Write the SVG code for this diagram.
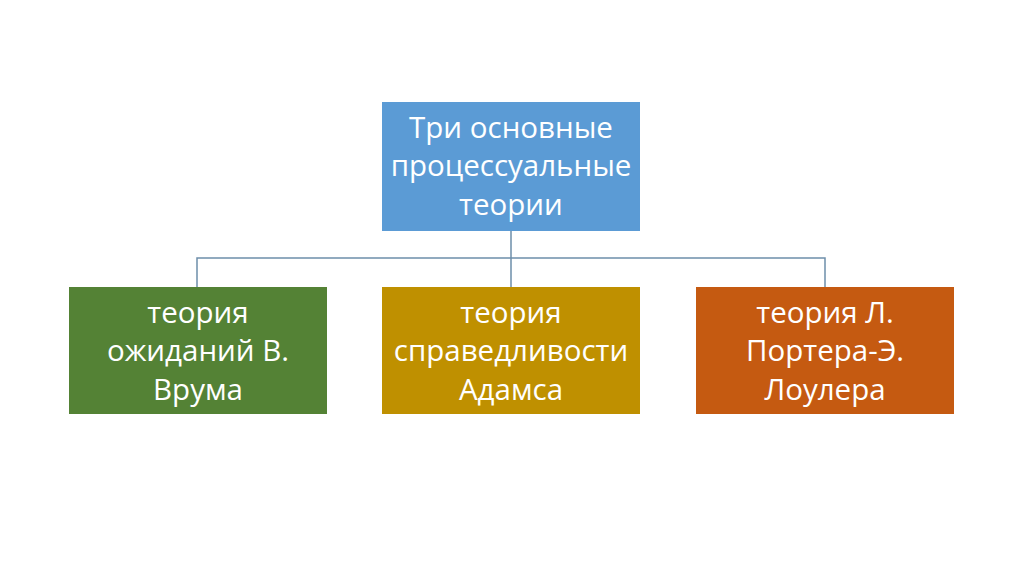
<svg xmlns="http://www.w3.org/2000/svg" width="1024" height="574" viewBox="0 0 1024 574">
<style>
.t{font-family:"Open Sans","Liberation Sans",sans-serif;font-size:29.5px;fill:#ffffff;text-anchor:middle}
.c{stroke:#6E8FAB;stroke-width:1.5;fill:none}
</style>
<rect width="1024" height="574" fill="#ffffff"/>
<g id="connectors">
<path class="c" d="M511 231V287M197 287V258H825V287"/>
</g>
<g id="root">
<rect x="382" y="102" width="258" height="129" fill="#5B9BD5"/>
<text class="t" x="511" y="138">Три основные</text>
<text class="t" x="511" y="176">процессуальные</text>
<text class="t" x="511" y="215">теории</text>
</g>
<g id="vroom">
<rect x="69" y="287" width="258" height="127" fill="#548235"/>
<text class="t" x="198" y="323">теория</text>
<text class="t" x="198" y="361">ожиданий В.</text>
<text class="t" x="198" y="400">Врума</text>
</g>
<g id="adams">
<rect x="382" y="287" width="258" height="127" fill="#BF9000"/>
<text class="t" x="511" y="323">теория</text>
<text class="t" x="511" y="361">справедливости</text>
<text class="t" x="511" y="400">Адамса</text>
</g>
<g id="porter">
<rect x="696" y="287" width="258" height="127" fill="#C55A11"/>
<text class="t" x="825" y="323">теория Л.</text>
<text class="t" x="825" y="361">Портера-Э.</text>
<text class="t" x="825" y="400">Лоулера</text>
</g>
</svg>
